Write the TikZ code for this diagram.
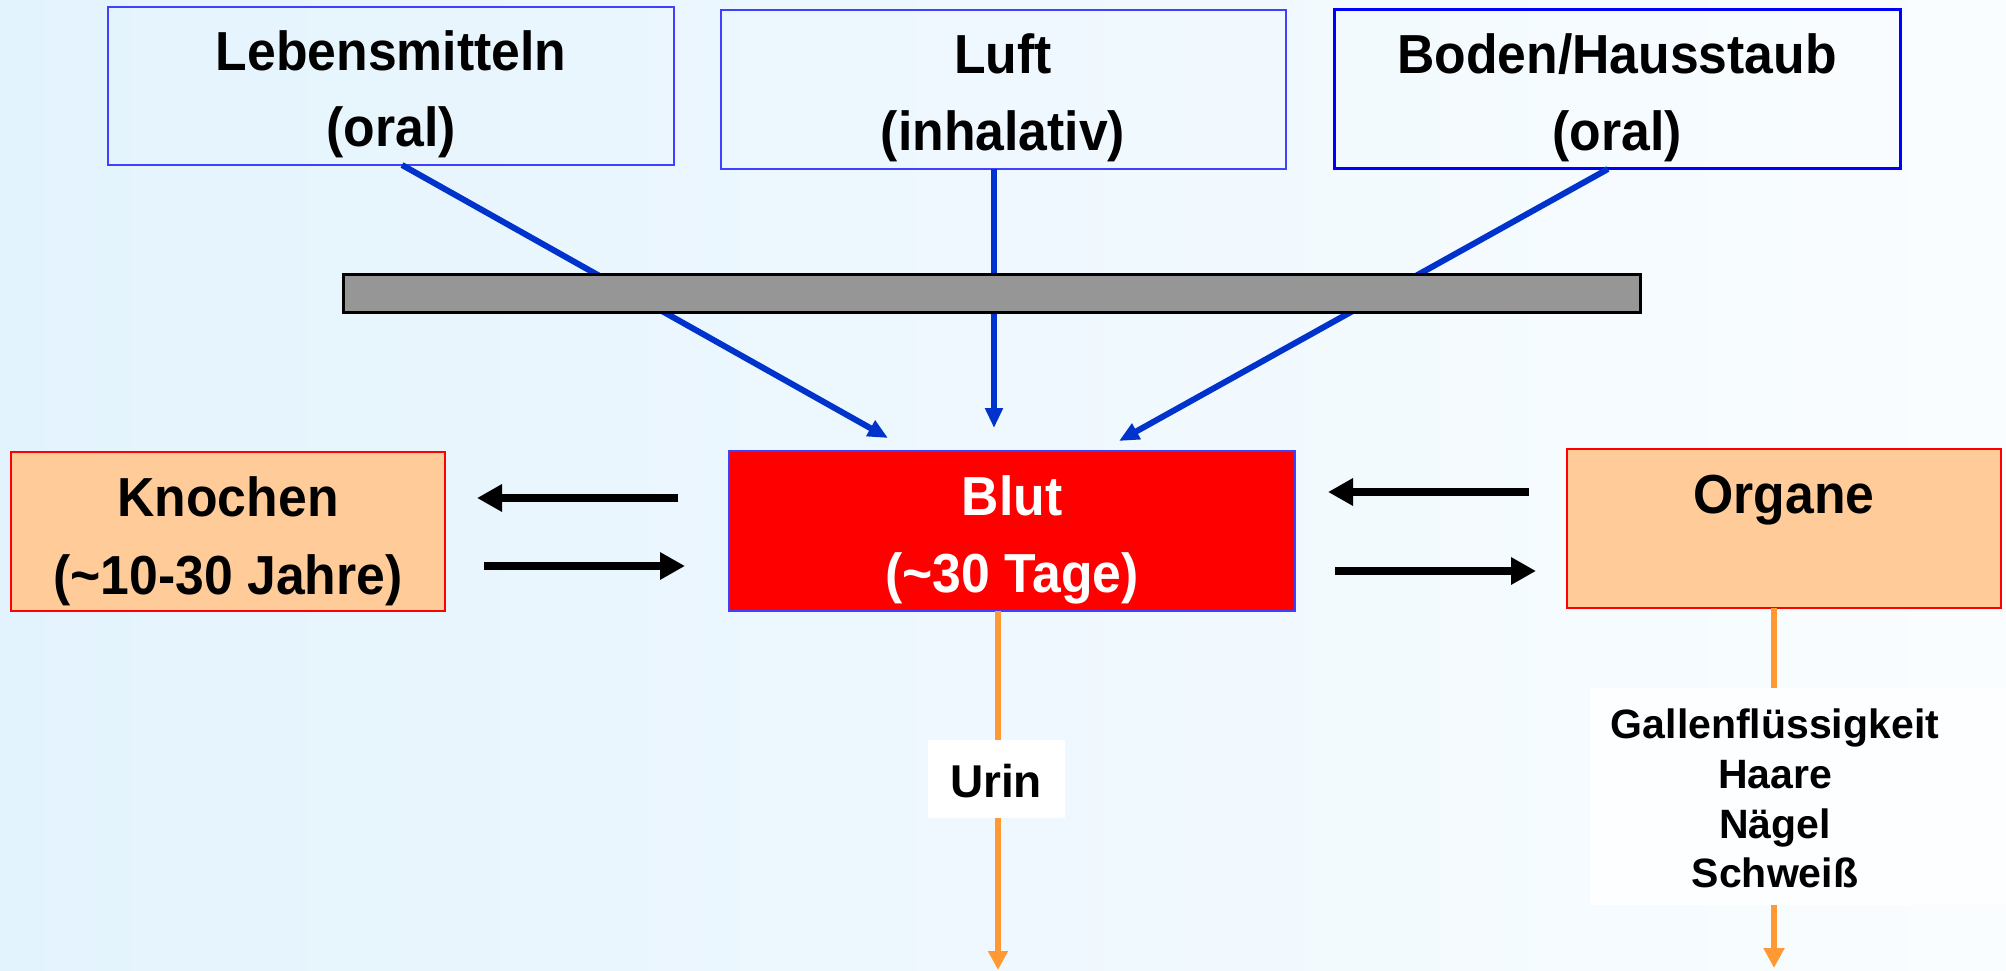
\documentclass[tikz,border=0pt]{standalone}
\usepackage{fontspec}
\setmainfont{Liberation Sans}
\newfontfamily\bx[FakeStretch=0.94]{Liberation Sans}
\usetikzlibrary{arrows.meta}
\definecolor{bgL}{RGB}{227,243,253}
\definecolor{bgR}{RGB}{250,253,255}
\definecolor{lblue}{RGB}{0,51,204}
\definecolor{bbord}{RGB}{64,64,255}
\definecolor{bbord2}{RGB}{0,0,255}
\definecolor{peach}{RGB}{255,204,153}
\definecolor{orng}{RGB}{255,153,51}
\definecolor{bargrey}{RGB}{150,150,150}
\definecolor{exfill}{RGB}{253,254,255}
\begin{document}
\begin{tikzpicture}[x=1pt,y=-1pt,
  every node/.style={inner sep=0pt,outer sep=0pt},
  srcbox/.style={draw=bbord,line width=2pt,anchor=north west},
  orgbox/.style={draw=red,line width=2pt,fill=peach,anchor=north west},
  bigtxt/.style={anchor=base,font={\bx\bfseries\fontsize{55pt}{66pt}\selectfont}},
  smalltxt/.style={anchor=base,font={\bfseries\fontsize{41pt}{50pt}\selectfont}},
  inflow/.style={draw=lblue,line width=6pt,-{Triangle[length=20pt,width=17pt]}},
  exch/.style={draw=black,line width=8pt,-{Triangle[length=25pt,width=26pt]}},
  outflow/.style={draw=orng,line width=6pt,-{Triangle[length=19pt,width=19pt]}}]
\useasboundingbox (0,0) rectangle (2006,971);
\fill[left color=bgL,right color=bgR] (0,0) rectangle (2006,971);

% boxes
\node[srcbox,minimum width=566pt,minimum height=158pt] (leb) at (108,7) {};
\node[srcbox,minimum width=565pt,minimum height=159pt] (luft) at (721,10) {};
\node[srcbox,draw=bbord2,line width=3pt,minimum width=566pt,minimum height=159pt] (boden) at (1334,10) {};
\node[draw=bbord,line width=2pt,fill=red,anchor=north west,minimum width=566pt,minimum height=160pt] (blut) at (729,451) {};
\node[orgbox,minimum width=434pt,minimum height=159pt] (kno) at (11,452) {};
\node[orgbox,minimum width=434pt,minimum height=159pt] (org) at (1567,449) {};

% connector end points
\coordinate (lebOut) at (402,165);
\coordinate (luftOut) at (994,169);
\coordinate (bodOut) at (1608,169);
\coordinate (blutIn1) at (888,438);
\coordinate (blutIn2) at (994,428);
\coordinate (blutIn3) at (1119,441);

% blue inflow lines
\draw[inflow] (lebOut) -- (blutIn1);
\draw[inflow] (luftOut) -- (blutIn2);
\draw[inflow] (bodOut) -- (blutIn3);

% grey barrier
\node[draw=black,line width=3pt,fill=bargrey,anchor=north west,minimum width=1297pt,minimum height=38pt] (bar) at (343,274) {};

% texts
\node[bigtxt] (t1a) at (391,71) {Lebensmitteln};
\node[bigtxt] (t1b) at (391,147) {(oral)};
\node[bigtxt] (t2a) at (1003,74) {Luft};
\node[bigtxt] (t2b) at (1003,150) {(inhalativ)};
\node[bigtxt] (t3a) at (1617,74) {Boden/Hausstaub};
\node[bigtxt] (t3b) at (1617,151) {(oral)};
\node[bigtxt] (t4a) at (228,516) {Knochen};
\node[bigtxt] (t4b) at (228,594) {(\symbol{126}10-30 Jahre)};
\node[bigtxt,text=white] (t5a) at (1012,515) {Blut};
\node[bigtxt,text=white] (t5b) at (1012,592) {(\symbol{126}30 Tage)};
\node[bigtxt] (t6a) at (1784,513) {Organe};

% exchange arrows
\coordinate (bk1) at (678,498); \coordinate (kb1) at (477,498);
\coordinate (kb2) at (484,566); \coordinate (bk2) at (685,566);
\coordinate (ob1) at (1529,492); \coordinate (bo1) at (1328,492);
\coordinate (bo2) at (1335,571); \coordinate (ob2) at (1536,571);
\draw[exch] (bk1) -- (kb1);
\draw[exch] (kb2) -- (bk2);
\draw[exch] (ob1) -- (bo1);
\draw[exch] (bo2) -- (ob2);

% outflows
\coordinate (urinEnd) at (998,970);
\coordinate (orgEnd) at (1774,968);
\draw[outflow] (blut.south -| urinEnd) -- (urinEnd);
\draw[outflow,-{Triangle[length=20pt,width=20pt]}] (org.south -| orgEnd) -- (orgEnd);

\node[fill=white,minimum width=137pt,minimum height=78pt] (urinbox) at (996,779) {};
\node[anchor=base,font={\bfseries\fontsize{46pt}{50pt}\selectfont}] (urin) at (996,797) {Urin};

\node[fill=exfill,anchor=north west,minimum width=416pt,minimum height=217pt] (exbox) at (1590,688) {};
\node[smalltxt] (e1) at (1775,738) {Gallenflüssigkeit};
\node[smalltxt] (e2) at (1775,788) {Haare};
\node[smalltxt] (e3) at (1775,838) {Nägel};
\node[smalltxt] (e4) at (1775,887) {Schweiß};
\end{tikzpicture}
\end{document}
